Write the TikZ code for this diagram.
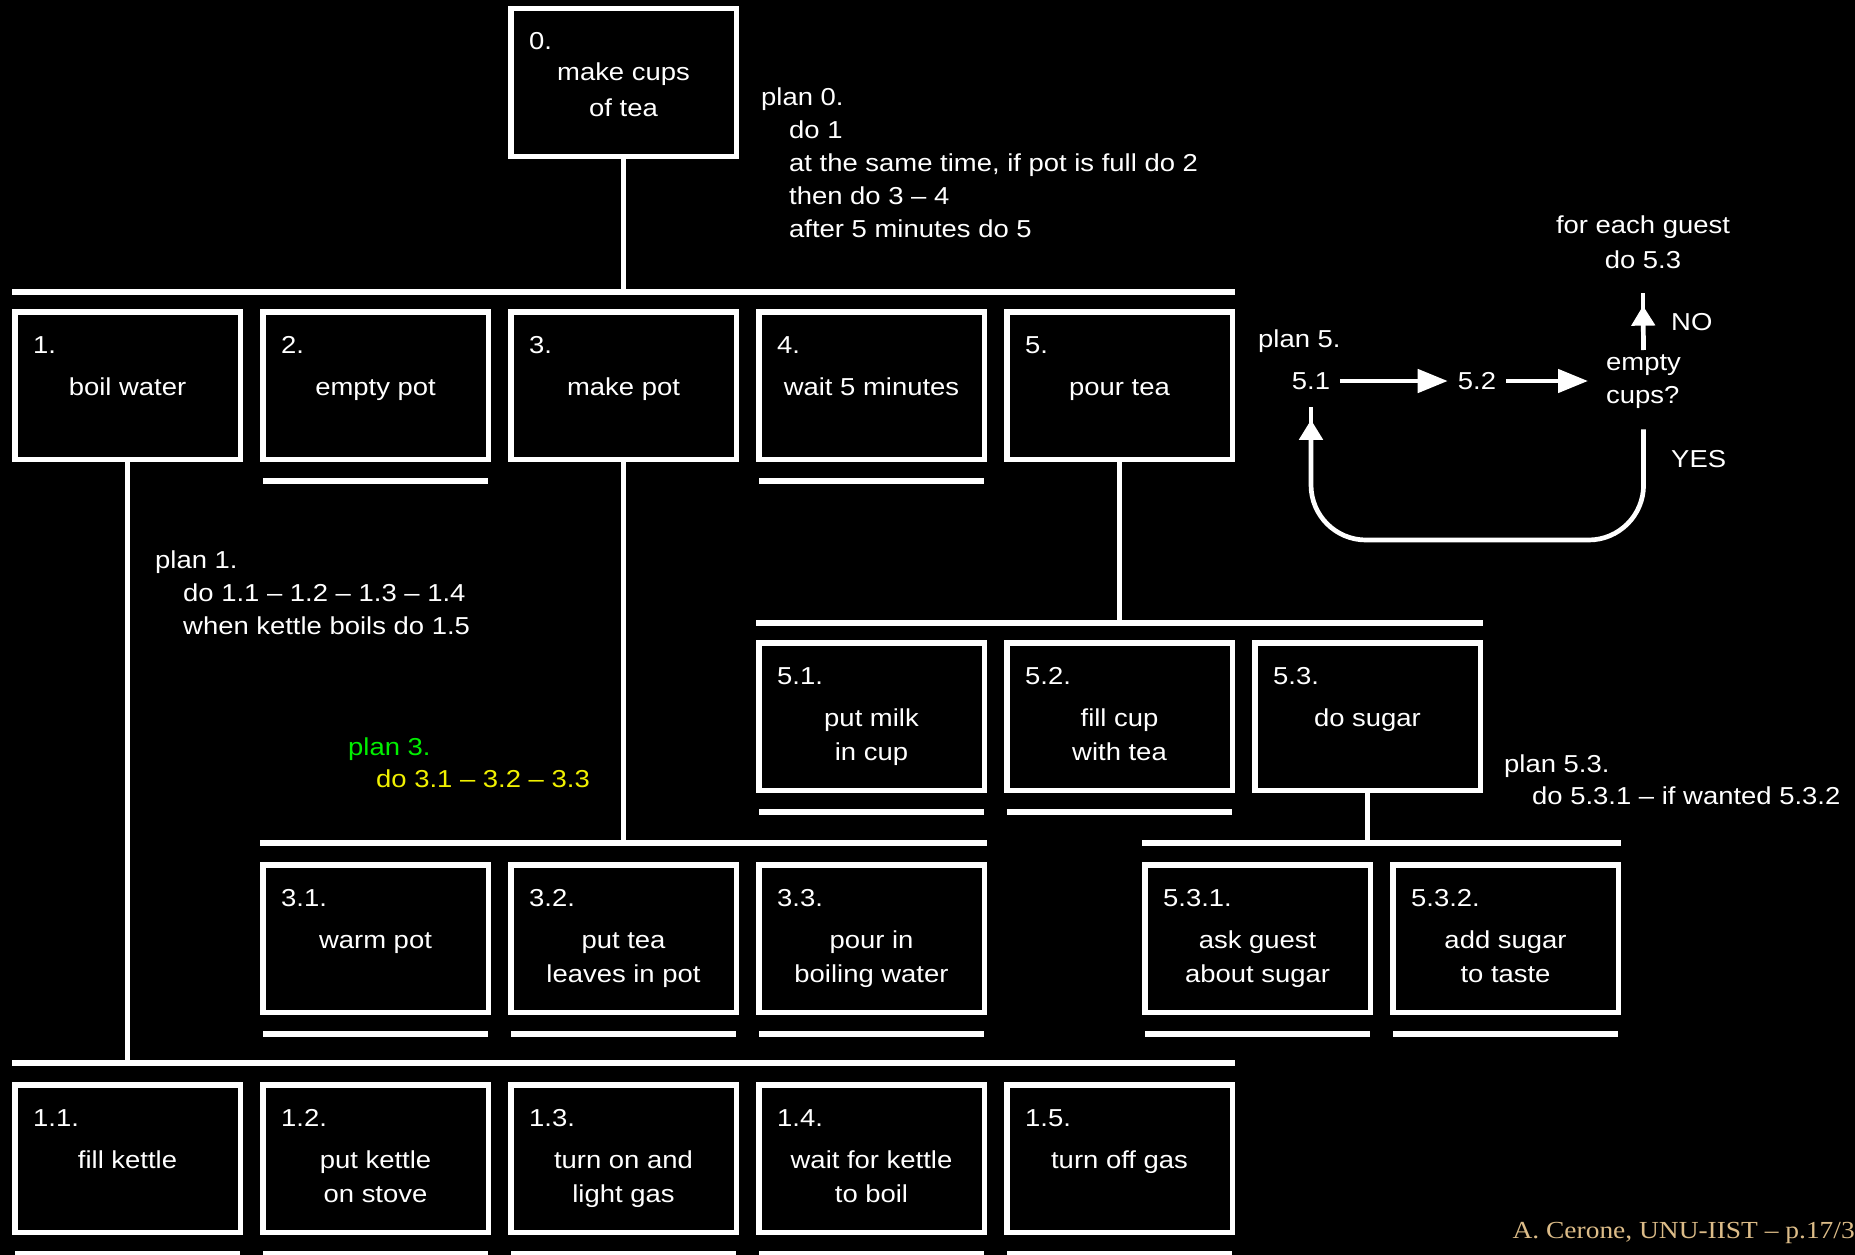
\documentclass[tikz,border=0pt]{standalone}
\usepackage{fontspec}
\setmainfont{Liberation Sans}[FakeStretch=1.12]
\newfontfamily\footfont{Liberation Serif}[FakeStretch=1.12]
\usetikzlibrary{arrows.meta,calc}
\definecolor{plangreen}{RGB}{0,240,0}
\definecolor{planyellow}{RGB}{240,240,0}
\definecolor{foottan}{RGB}{220,188,136}
\tikzset{
  txt/.style={text=white, inner sep=0pt, font=\fontsize{24.5}{33}\selectfont},
  taskbox/.style={draw=white, line width=5.5pt, minimum width=225.5pt, minimum height=147.5pt, inner sep=0pt},
  treebar/.style={draw=white, line width=5.5pt},
  link/.style={draw=white, line width=5pt},
  flow/.style={draw=white, line width=4.7pt},
  htip/.style={-{Triangle[length=30pt,width=23pt]}},
  vtip/.style={-{Triangle[length=20pt,width=23pt]}},
}
\begin{document}
\begin{tikzpicture}[x=1pt, y=-1pt]
        \useasboundingbox (0,0) rectangle (1855,1255);
        \fill[black] (0,0) rectangle (1855,1255);
        \clip (0,0) rectangle (1855,1255);

        % task boxes
        \node[taskbox] (t0) at (623.5,82.5) {};
        \node[txt, anchor=base west] (t0-num) at ($(t0.north west)+(21,44)$) {0.};
        \node[txt, anchor=north, align=center, font=\fontsize{24.5}{36}\selectfont] (t0-lbl) at ($(t0.north)+(0,54)$) {\rule{0pt}{20pt}make cups\\of tea};

        \foreach \nm/\x/\y/\num/\lbl in {t1/127.5/385.5/1./boil water, t2/375.5/385.5/2./empty pot, t3/623.5/385.5/3./make pot, t4/871.5/385.5/4./wait 5 minutes, t5/1119.5/385.5/5./pour tea,
            t51/871.5/716.5/5.1./{put milk\\in cup}, t52/1119.5/716.5/5.2./{fill cup\\with tea}, t53/1367.5/716.5/5.3./do sugar,
            t31/375.5/938.5/3.1./warm pot, t32/623.5/938.5/3.2./{put tea\\leaves in pot}, t33/871.5/938.5/3.3./{pour in\\boiling water}, t531/1257.5/938.5/5.3.1./{ask guest\\about sugar}, t532/1505.5/938.5/5.3.2./{add sugar\\to taste},
            t11/127.5/1158.5/1.1./fill kettle, t12/375.5/1158.5/1.2./{put kettle\\on stove}, t13/623.5/1158.5/1.3./{turn on and\\light gas}, t14/871.5/1158.5/1.4./{wait for kettle\\to boil}, t15/1119.5/1158.5/1.5./turn off gas} {
            \node[taskbox] (\nm) at (\x,\y) {};
            \node[txt, anchor=base west] (\nm-num) at ($(\nm.north west)+(21,44)$) {\num};
            \node[txt, anchor=north, align=center, font=\fontsize{24.5}{34}\selectfont] (\nm-lbl) at ($(\nm.north)+(0,66)$) {\rule{0pt}{20pt}\lbl};
        }

        % bars and links
        \coordinate (rowbar0) at (0,292);
        \coordinate (rowbar5) at (0,623);
        \coordinate (rowbar3) at (0,843);
        \coordinate (rowbar1) at (0,1063);
        \draw[treebar] (t1.west |- rowbar0) -- (t5.east |- rowbar0);
        \draw[treebar] (t51.west |- rowbar5) -- (t53.east |- rowbar5);
        \draw[treebar] (t31.west |- rowbar3) -- (t33.east |- rowbar3);
        \draw[treebar] (t531.west |- rowbar3) -- (t532.east |- rowbar3);
        \draw[treebar] (t11.west |- rowbar1) -- (t15.east |- rowbar1);
        \draw[link] (t0) -- (t0 |- rowbar0);
        \draw[link] (t1) -- (t1 |- rowbar1);
        \draw[link] (t3) -- (t3 |- rowbar3);
        \draw[link] (t5) -- (t5 |- rowbar5);
        \draw[link] (t53) -- (t53 |- rowbar3);

        % leaf underlines
        \foreach \nm in {t2,t4,t51,t52,t31,t32,t33,t531,t532,t11,t12,t13,t14,t15} {
            \draw[treebar] ($(\nm.south west)+(3,19)$) -- ($(\nm.south east)+(-3,19)$);
        }

        % plans
        \node[txt, align=left, anchor=north west] (plan0) at (761,85) {\rule{0pt}{20pt}plan 0.\\\hspace*{28pt}do 1\\\hspace*{28pt}at the same time, if pot is full do 2\\\hspace*{28pt}then do 3 -- 4\\\hspace*{28pt}after 5 minutes do 5};
        \node[txt, align=left, anchor=north west] (plan1) at (155,548) {\rule{0pt}{20pt}plan 1.\\\hspace*{28pt}do 1.1 -- 1.2 -- 1.3 -- 1.4\\\hspace*{28pt}when kettle boils do 1.5};
        \node[txt, align=left, anchor=north west, font=\fontsize{24.5}{32}\selectfont] (plan3) at (348,735) {\rule{0pt}{20pt}\textcolor{plangreen}{plan 3.}\\\hspace*{28pt}\textcolor{planyellow}{do 3.1 -- 3.2 -- 3.3}};
        \node[txt, align=left, anchor=north west, font=\fontsize{24.5}{32}\selectfont] (plan53) at (1504,752) {\rule{0pt}{20pt}plan 5.3.\\\hspace*{28pt}do 5.3.1 -- if wanted 5.3.2};

        % plan 5 loop
        \node[txt, anchor=base west] (plan5) at (1258,347) {plan 5.};
        \node[txt, inner xsep=10pt, inner ysep=10pt] (n51) at (1311,381) {5.1};
        \node[txt, inner xsep=10pt, inner ysep=10pt] (n52) at (1477,381) {5.2};
        \node[txt, align=left, anchor=north west] (ncups) at (1606,350) {\rule{0pt}{20pt}empty\\cups?};
        \node[txt, align=center, anchor=north, font=\fontsize{24.5}{35}\selectfont] (nguest) at (1643,213) {\rule{0pt}{20pt}for each guest\\do 5.3};
        \node[txt, anchor=base west] (lblno) at (1671,330) {NO};
        \node[txt, anchor=base west] (lblyes) at (1671,467) {YES};
        \coordinate (loopbot) at (0,540);

        \draw[flow, htip] (n51) -- (n52);
        \draw[flow, htip, shorten >=18pt] (n52.east) -- (n52.east -| ncups.west);
        \draw[flow, vtip] (ncups.north) -- ([yshift=-37pt]nguest.south);
        \draw[flow] ([yshift=-50pt]nguest.south) -- ([yshift=-24pt]nguest.south);
        \draw[flow, vtip, rounded corners=55pt] ([yshift=-21pt]ncups.south) -- (ncups.south |- loopbot) -- (n51.south |- loopbot) -- ([yshift=-20pt]n51.south);
        \draw[flow] ([yshift=-33pt]n51.south) -- ([yshift=-7pt]n51.south);

        \node[txt, anchor=base east, text=foottan, font=\footfont\fontsize{24.5}{33}\selectfont] (footer) at (1855,1238) {A. Cerone, UNU-IIST \textendash{} p.17/3};
\end{tikzpicture}
\end{document}
